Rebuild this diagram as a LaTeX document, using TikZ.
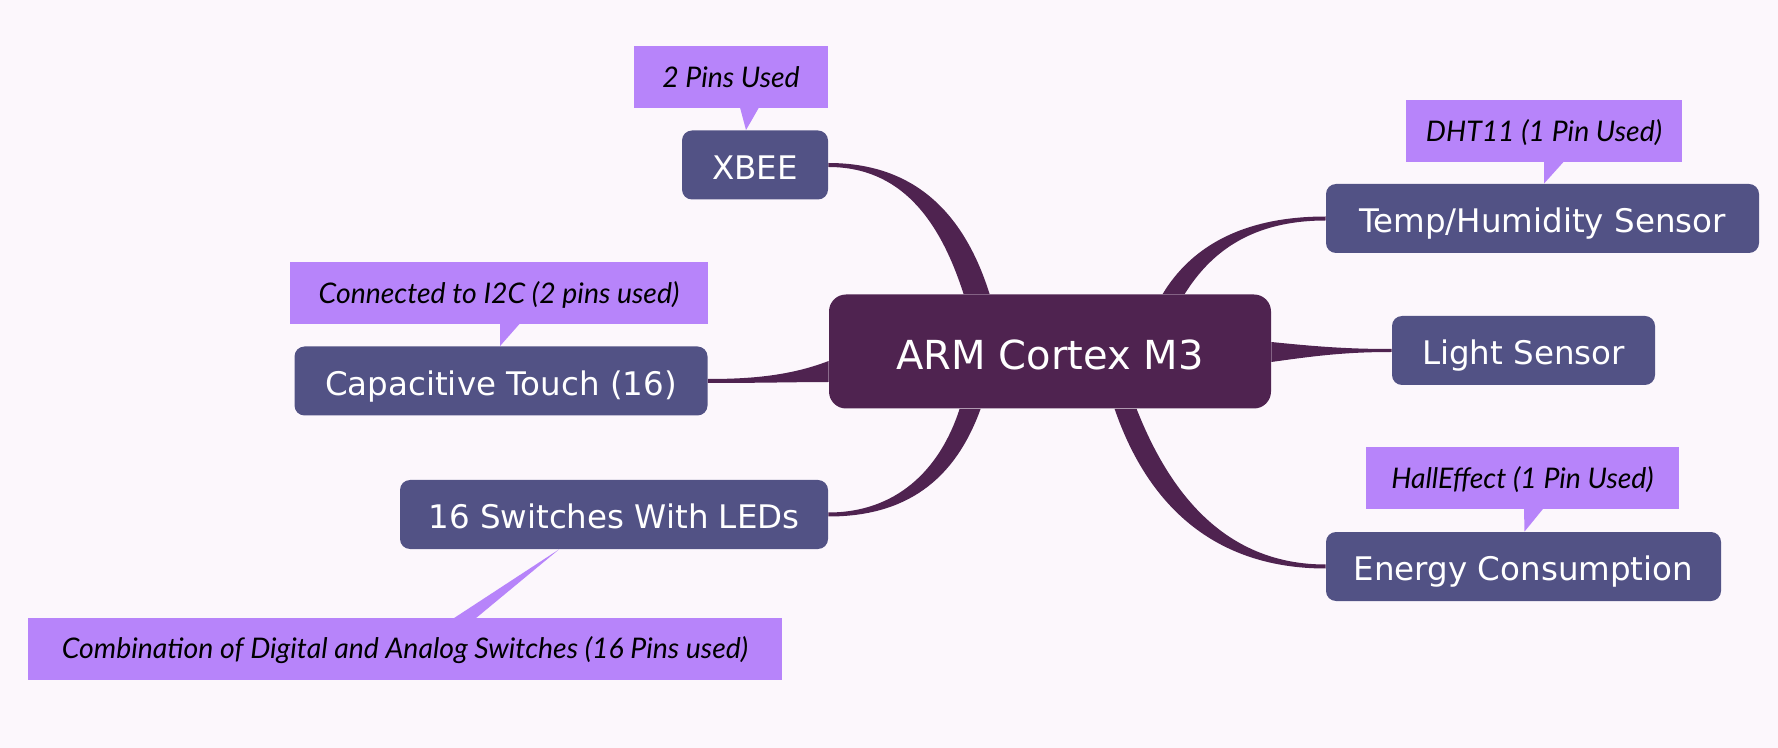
\documentclass[tikz,border=0pt]{standalone}
\usepackage{fontspec}
\usetikzlibrary{calc}
\newfontfamily\boxfont{DejaVu Sans}
\newfontfamily\notefont{Lato}
\definecolor{pagebg}{HTML}{FCF7FC}
\definecolor{hubcol}{HTML}{4F2350}
\definecolor{blockcol}{HTML}{525285}
\definecolor{notecol}{HTML}{B784FA}

\begin{document}
\begin{tikzpicture}[x=0.5pt, y=-0.5pt,
  hub/.style={fill=hubcol, text=white, rounded corners=8.5pt, minimum width=221pt, minimum height=57pt, inner sep=0pt, font=\boxfont\fontsize{20}{24}\selectfont, text height=17.8pt, text depth=0pt},
  block/.style={fill=blockcol, text=white, rounded corners=5pt, minimum height=34.5pt, inner sep=0pt, font=\boxfont\fontsize{16.25}{19}\selectfont, text height=14.3pt, text depth=0pt},
  note/.style={fill=notecol, text=black, minimum height=31pt, inner sep=0pt, font=\notefont\itshape\fontsize{14.2}{17}\selectfont, text height=10.2pt, text depth=0pt},
  branch/.style={fill=hubcol},
  pointer/.style={fill=notecol}]

  \path[fill=pagebg, use as bounding box] (0,0) rectangle (1778,748);

  % Centre
  \node[hub] (arm) at (1050,351.5) {ARM Cortex M3};

  % Left side
  \node[block, minimum width=73pt] (xbee) at (755,165) {XBEE};
  \node[block, minimum width=206.5pt] (touch) at (501,381) {Capacitive Touch (16)};
  \node[block, minimum width=214pt] (switches) at (614,514.5) {16 Switches With LEDs};

  % Right side
  \node[block, minimum width=216.5pt] (temp) at (1542.5,218.5) {Temp/Humidity Sensor};
  \node[block, minimum width=131.5pt] (light) at (1523.5,350.5) {Light Sensor};
  \node[block, minimum width=197.5pt] (energy) at (1523.5,566.5) {Energy Consumption};

  % Notes
  \node[note, minimum width=97pt] (xbeenote) at (731,77) {2 Pins Used};
  \node[note, minimum width=209pt] (touchnote) at (499,293) {Connected to I2C (2 pins used)};
  \node[note, minimum width=138pt] (tempnote) at (1544,131) {DHT11 (1 Pin Used)};
  \node[note, minimum width=156.5pt] (energynote) at (1522.5,478.5) {HallEffect (1 Pin Used)};
  \node[note, minimum width=377pt] (switchnote) at (405,648.5) {Combination of Digital and Analog Switches (16 Pins used)};

  % Branches
  \fill[branch] ($(arm.north west)+(161,0)$) .. controls +(-25,-80) and +(87,0) .. ($(xbee.east)+(0,-2)$)
    -- ($(xbee.east)+(0,2)$) .. controls +(72,0) and +(-24,-75) .. ($(arm.north west)+(135,0)$) -- cycle;
  \fill[branch] ($(arm.north west)+(334,0)$) .. controls +(27,-45) and +(-86,0) .. ($(temp.west)+(0,-2)$)
    -- ($(temp.west)+(0,2)$) .. controls +(-76,0) and +(25,-40) .. ($(arm.north west)+(356,0)$) -- cycle;
  \fill[branch] ($(arm.east)+(0,-9.5)$) .. controls +(49,5) and +(-42,0) .. ($(light.west)+(0,-1.5)$)
    -- ($(light.west)+(0,1.5)$) .. controls +(-42,0) and +(49,-7) .. ($(arm.east)+(0,10.5)$) -- cycle;
  \fill[branch] ($(arm.south west)+(286,0)$) .. controls +(35,102) and +(-106,0) .. ($(energy.west)+(0,2)$)
    -- ($(energy.west)+(0,-2)$) .. controls +(-91,0) and +(38,97) .. ($(arm.south west)+(308,0)$) -- cycle;
  \fill[branch] ($(arm.south west)+(152,0)$) .. controls +(-26,72) and +(77,0) .. ($(switches.east)+(0,2)$)
    -- ($(switches.east)+(0,-2)$) .. controls +(67,0) and +(-20,62) .. ($(arm.south west)+(131,0)$) -- cycle;
  \fill[branch] ($(arm.west)+(0,9.5)$) .. controls +(-39,15) and +(42,0) .. ($(touch.east)+(0,-2)$)
    -- ($(touch.east)+(0,2)$) .. controls +(52,0) and +(-29,0) .. ($(arm.west)+(0,30.5)$) -- cycle;

  % Note pointers
  \fill[pointer] ($(xbeenote.south)+(9,-1)$) -- ($(xbeenote.south)+(28,-1)$) -- ($(xbee.north)+(-9,0)$) -- cycle;
  \fill[pointer] ($(touchnote.south)+(1,-1)$) -- ($(touchnote.south)+(21,-1)$) -- ($(touch.north)+(-1,0)$) -- cycle;
  \fill[pointer] ($(tempnote.south)+(0,-1)$) -- ($(tempnote.south)+(20,-1)$) -- ($(temp.north)+(1.5,0)$) -- cycle;
  \fill[pointer] ($(energynote.south)+(1.5,-1)$) -- ($(energynote.south)+(20.5,-1)$) -- ($(energy.north)+(1,0)$) -- cycle;
  \fill[pointer] ($(switchnote.north)+(49,1)$) -- ($(switchnote.north)+(71,1)$) -- ($(switches.south)+(-55,0)$) -- cycle;

\end{tikzpicture}
\end{document}
